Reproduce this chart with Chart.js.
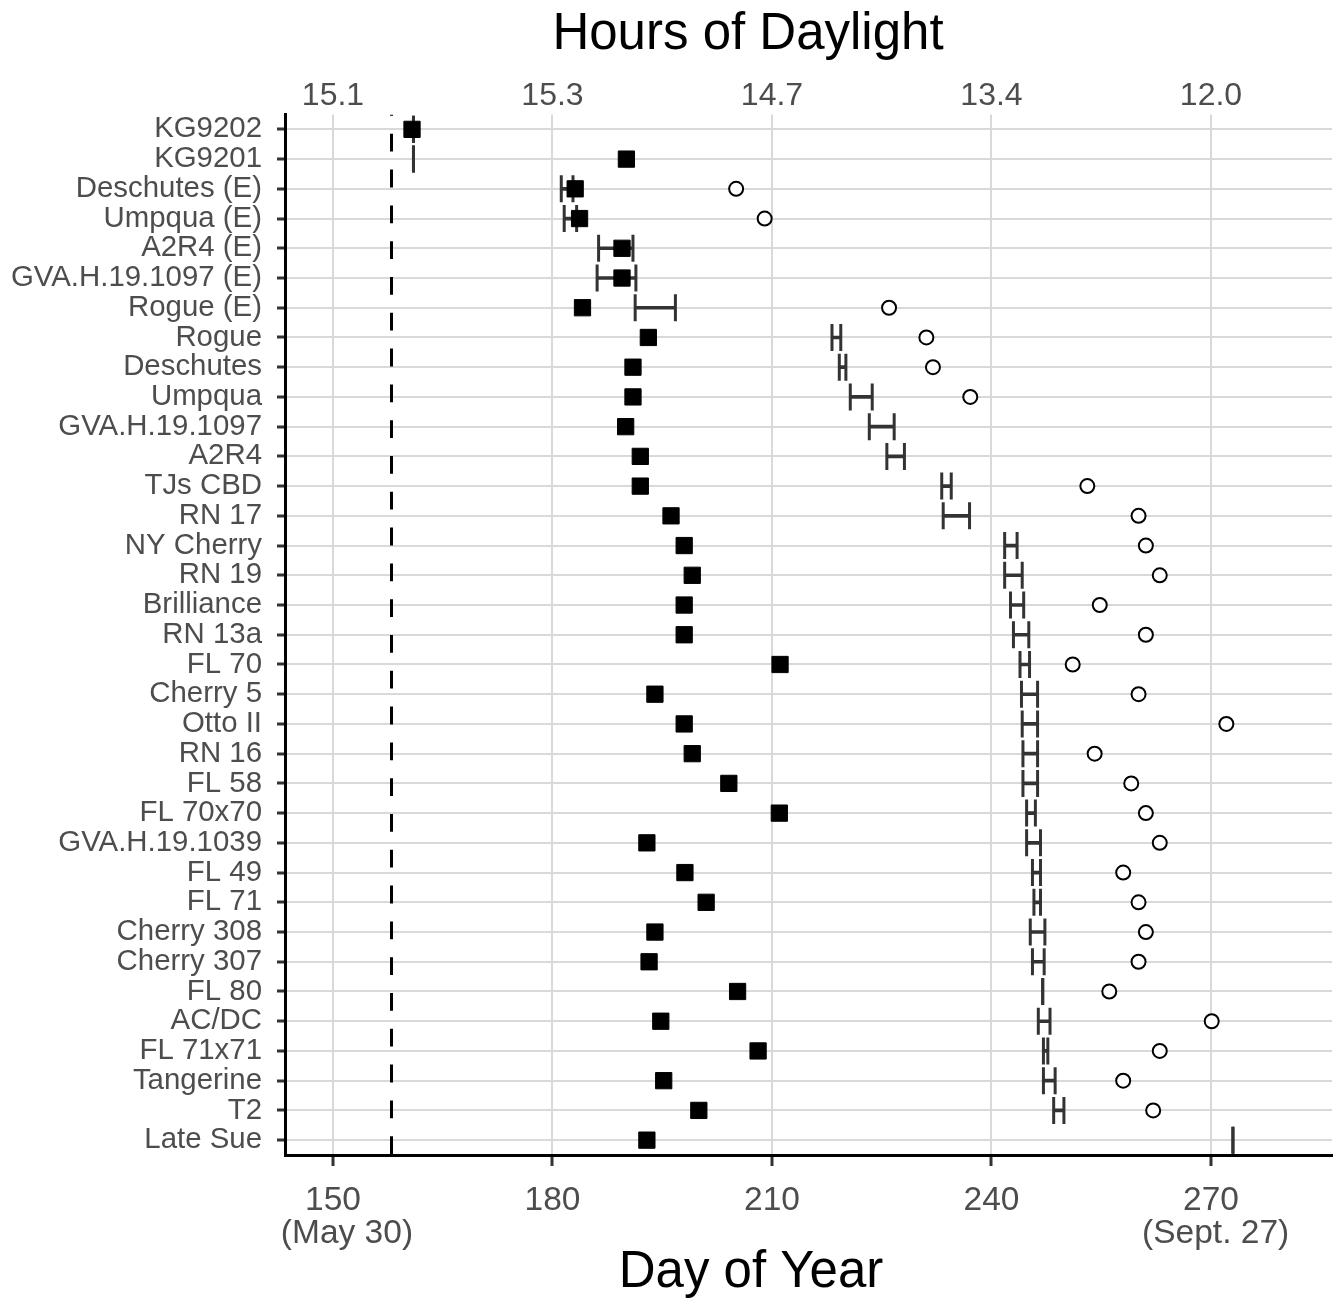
<!DOCTYPE html>
<html>
<head>
<meta charset="utf-8">
<script src="https://cdn.jsdelivr.net/npm/chart.js@4/dist/chart.umd.min.js"></script>
<style>
  html, body { margin: 0; padding: 0; background: #fff; overflow: hidden; }
  #dia { display: block; }
</style>
</head>
<body>
<canvas id="dia" width="1340" height="1301"></canvas>
<script>
// rows, top to bottom
const varieties = ['KG9202','KG9201','Deschutes (E)','Umpqua (E)','A2R4 (E)','GVA.H.19.1097 (E)','Rogue (E)',
  'Rogue','Deschutes','Umpqua','GVA.H.19.1097','A2R4','TJs CBD','RN 17','NY Cherry','RN 19','Brilliance',
  'RN 13a','FL 70','Cherry 5','Otto II','RN 16','FL 58','FL 70x70','GVA.H.19.1039','FL 49','FL 71',
  'Cherry 308','Cherry 307','FL 80','AC/DC','FL 71x71','Tangerine','T2','Late Sue'];

// filled squares
const squareDay = [160.8,190.1,183.1,183.7,189.5,189.5,184.1,193.1,191.0,191.0,190.0,192.0,192.0,196.2,198.0,199.1,198.0,
  198.0,211.1,194.0,198.0,199.1,204.1,211.0,192.9,198.1,201.0,194.0,193.2,205.3,194.8,208.1,195.2,200.0,192.9];

// interval (error bar) ends
const rangeLo = [161,161,181.2,181.6,186.3,186.1,191.3,218.2,219.2,220.7,223.3,225.7,233.2,233.4,241.8,241.8,242.6,
  243.0,243.9,244.1,244.2,244.3,244.3,244.8,244.8,245.6,245.8,245.3,245.6,247.0,246.4,247.1,247.1,248.5,273.0];
const rangeHi = [161,161,182.8,183.3,191.0,191.4,196.8,219.4,220.1,223.7,226.7,228.1,234.5,237.0,243.5,244.2,244.4,
  245.1,245.2,246.3,246.3,246.3,246.3,246.0,246.7,246.7,246.7,247.3,247.2,247.0,248.0,247.7,248.7,249.9,273.0];

// open circles (null = none)
const circleDay = [null,null,205.1,209.0,null,null,226.0,231.1,232.0,237.1,null,null,253.1,260.1,261.1,263.0,254.8,
  261.1,251.1,260.1,272.1,254.1,259.1,261.1,263.0,258.0,260.1,261.1,260.1,256.1,270.1,263.0,258.0,262.1,null];

const dayTicks = [150, 180, 210, 240, 270];
const dayTickLabels = [['150','   (May 30)'], ['180'], ['210'], ['240'], ['270',' (Sept. 27)']];
const daylightLabels = ['15.1', '15.3', '14.7', '13.4', '12.0'];
const refDay = 158;
const topTitle = 'Hours of Daylight';
const bottomTitle = 'Day of Year';

const xMin = 143.44, xMax = 286.54;
const FONT = "'Liberation Sans', Arial, sans-serif";
Chart.defaults.font.family = FONT;

let squares = varieties.map((v, i) => ({x: squareDay[i], y: v}));
let circles = [];
varieties.forEach((v, i) => { if (circleDay[i] != null) circles.push({x: circleDay[i], y: v}); });
let bars = varieties.map((v, i) => ({x: [rangeLo[i], rangeHi[i]], y: v}));
let caps = [];
varieties.forEach((v, i) => { caps.push({x: rangeLo[i], y: v}); caps.push({x: rangeHi[i], y: v}); });

const setTicks = scale => { scale.ticks = dayTicks.map(d => ({value: d})); };
// fixed box sizes, no extra padding from the labels
const noPad = s => { s.paddingLeft = 0; s.paddingRight = 0; s.paddingTop = 0; s.paddingBottom = 0; };
const fitX = h => s => { s.height = h; noPad(s); };

// axis titles, placed like the original figure (not centred on the panel)
const titlesPlugin = {
  id: 'titles',
  afterDraw(chart) {
    let ctx = chart.ctx;
    ctx.save();
    ctx.fillStyle = '#000';
    ctx.textAlign = 'center';
    ctx.textBaseline = 'middle';
    ctx.font = "51px " + FONT;
    ctx.fillText(topTitle, 748, 34.5);
    ctx.fillText(bottomTitle, 751, 1272.5);
    ctx.restore();
  }
};

new Chart(document.getElementById('dia'), {
  type: 'scatter',
  data: {
    datasets: [
      { data: squares, xAxisID: 'x', yAxisID: 'y', order: 0,
        pointStyle: 'rect', pointRadius: 11.5,
        pointBackgroundColor: '#000', pointBorderColor: '#000', pointBorderWidth: 1 },
      { data: circles, xAxisID: 'x', yAxisID: 'y', order: 1,
        pointStyle: 'circle', pointRadius: 7,
        pointBackgroundColor: '#fff', pointBorderColor: '#000', pointBorderWidth: 2 },
      { data: caps, xAxisID: 'x', yAxisID: 'y', order: 2,
        pointStyle: 'line', pointRotation: 90, rotation: 90, pointRadius: 13.5,
        pointBorderColor: '#333', pointBorderWidth: 3 },
      { type: 'bar', indexAxis: 'y', data: bars, xAxisID: 'x', yAxisID: 'y', order: 3,
        barThickness: 3, backgroundColor: '#333', borderWidth: 0 },
      // dashed reference day
      { data: [{x: refDay, y: 1}, {x: refDay, y: 0}], xAxisID: 'x', yAxisID: 'yv', order: 4,
        showLine: true, pointRadius: 0, borderColor: '#000', borderWidth: 3,
        borderDash: [17.8, 18], borderDashOffset: 16.5 }
    ]
  },
  options: {
    responsive: false,
    animation: false,
    events: [],
    layout: { autoPadding: false, padding: { left: 0, right: 8, top: 0, bottom: 0 } },
    plugins: { legend: { display: false }, tooltip: { enabled: false } },
    scales: {
      x: {
        type: 'linear', position: 'bottom', min: xMin, max: xMax,
        afterBuildTicks: setTicks,
        afterFit: fitX(146),
        grid: { color: '#d9d9d9', lineWidth: 2, tickColor: '#333', tickWidth: 3, tickLength: 11 },
        border: { color: '#000', width: 3 },
        ticks: { font: { size: 33.5, lineHeight: 0.97 }, color: '#4d4d4d', padding: 19, maxRotation: 0,
          callback: (val, i) => dayTickLabels[i] }
      },
      x2: {
        type: 'linear', position: 'top', min: xMin, max: xMax,
        afterBuildTicks: setTicks,
        afterFit: fitX(114.5),
        grid: { display: false, drawTicks: false },
        border: { display: false },
        ticks: { font: { size: 32, lineHeight: 1.0 }, color: '#4d4d4d', padding: 2, maxRotation: 0,
          callback: (val, i) => daylightLabels[i] }
      },
      y: {
        type: 'category', labels: varieties, position: 'left', offset: true,
        afterFit: s => { s.width = 285; noPad(s); },
        grid: { offset: false, color: '#d9d9d9', lineWidth: 2, tickColor: '#333', tickWidth: 3, tickLength: 8 },
        border: { color: '#000', width: 3 },
        ticks: { font: { size: 29.4 }, color: '#4d4d4d', padding: 15, autoSkip: false }
      },
      yv: { type: 'linear', display: false, min: 0, max: 1, afterFit: noPad }
    }
  },
  plugins: [titlesPlugin]
});
</script>
</body>
</html>
